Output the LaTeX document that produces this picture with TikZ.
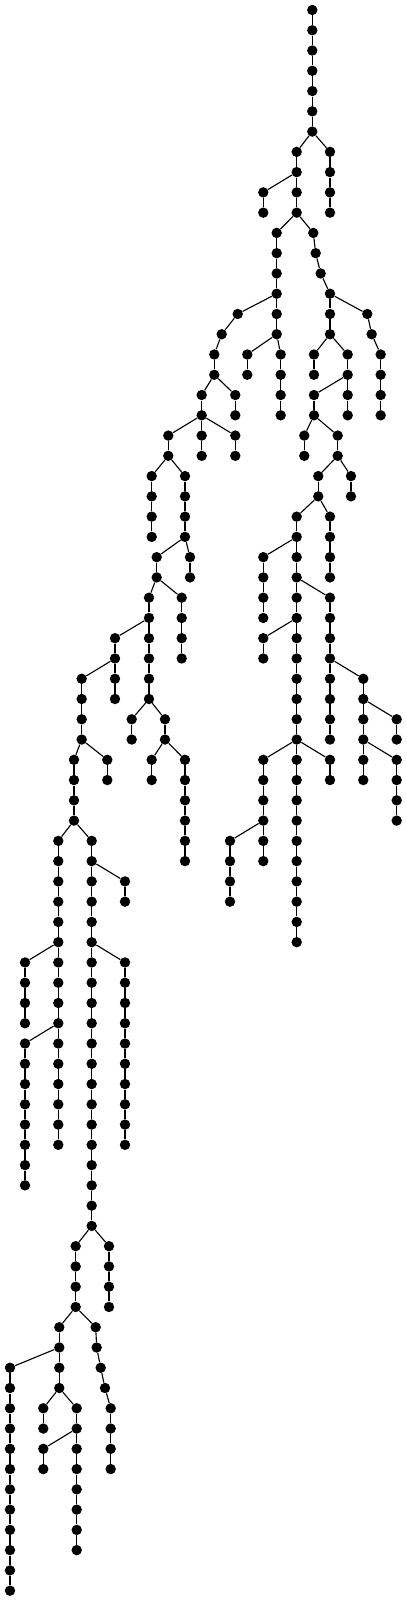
\documentclass[tikz,border=0pt]{standalone}
\usepackage{tikz}
\tikzset{
  dot/.style={circle,fill=black,draw=none,inner sep=0pt,minimum size=2.6mm},
  wire/.style={black,line width=0.8pt},
}
% a vertical run of dots, one per row: prefix, x, first row, last row
\newcommand{\dotchain}[4]{%
  \foreach \r in {#3,...,#4}{%
    \node[dot] (#1\r) at (#2,\r) {};
    \ifnum\r>#3 \pgfmathtruncatemacro{\q}{\r-1}\draw[wire] (#1\q) -- (#1\r);\fi
  }}
% a run whose x drifts: prefix, first row, list of x
\newcommand{\slantchain}[3]{%
  \foreach \x [count=\r from #2] in {#3}{%
    \node[dot] (#1\r) at (\x,\r) {};
    \ifnum\r>#2 \pgfmathtruncatemacro{\q}{\r-1}\draw[wire] (#1\q) -- (#1\r);\fi
  }}

\begin{document}
\begin{tikzpicture}[x=0.25mm,y=-5.06625mm]
  \path[use as bounding box] (0,-0.4935) rectangle (407,78.51);

  % trunk and first split
  \dotchain{t}{312.3}{0}{6}
  \dotchain{ra}{330}{7}{10}
  \dotchain{b}{296.7}{7}{10}
  \dotchain{d}{263.3}{9}{10}

  % left half
  \dotchain{e}{276.7}{11}{16}
  \slantchain{g}{15}{237.7,221.7,214.3,214.3}
  \dotchain{h}{247.3}{17}{18}
  \dotchain{i}{280.7}{17}{20}
  \dotchain{j}{201.7}{19}{20}
  \dotchain{k}{235.3}{19}{20}
  \dotchain{l}{168.3}{21}{22}
  \dotchain{m}{201.7}{21}{22}
  \dotchain{n}{235.3}{21}{22}
  \dotchain{o}{151.7}{23}{26}
  \dotchain{p}{185}{23}{26}
  \dotchain{q}{156.7}{27}{28}
  \dotchain{s}{190}{27}{28}
  \dotchain{u}{149}{29}{34}
  \dotchain{v}{181.7}{29}{32}
  \dotchain{w}{115}{31}{34}
  \dotchain{y}{81.7}{33}{36}
  \dotchain{z}{131.7}{35}{36}
  \dotchain{aa}{165}{35}{36}
  \dotchain{ab}{151.7}{37}{38}
  \dotchain{ac}{185}{37}{42}
  \dotchain{ad}{74}{37}{40}
  \dotchain{ae}{107.3}{37}{38}
  \dotchain{af}{58.3}{41}{56}
  \dotchain{ag}{91.7}{41}{60}
  \dotchain{ah}{125}{43}{44}
  \dotchain{ai}{125}{47}{56}
  \dotchain{aj}{25}{47}{50}
  \dotchain{ak}{25}{51}{58}
  \dotchain{al}{75.7}{61}{64}
  \dotchain{am}{109}{61}{64}
  \dotchain{an}{59.3}{65}{68}
  \slantchain{ao}{65}{95.7,96.7,100.7,105,110.7,110.7,110.7,110.7}
  \dotchain{ap}{10}{67}{78}
  \dotchain{aq}{43.3}{69}{70}
  \dotchain{ar}{76.7}{69}{76}
  \dotchain{as}{43.3}{71}{72}

  % right half
  \slantchain{f}{11}{313.3,315.7,320.7,330,330,330}
  \slantchain{ba}{15}{367.3,371.7,380.7,380.7,380.7,380.7}
  \dotchain{bb}{314}{17}{18}
  \dotchain{bc}{347.7}{17}{20}
  \dotchain{bd}{314}{19}{20}
  \dotchain{be}{304.3}{21}{22}
  \dotchain{bf}{337.7}{21}{22}
  \dotchain{bg}{318.3}{23}{24}
  \dotchain{bh}{351}{23}{24}
  \dotchain{bi}{296.7}{25}{46}
  \dotchain{bj}{330}{25}{28}
  \dotchain{bk}{263.3}{27}{30}
  \dotchain{bl}{330}{29}{36}
  \dotchain{bm}{263.3}{31}{32}
  \dotchain{bn}{263.3}{37}{40}
  \dotchain{bo}{330}{37}{38}
  \dotchain{bp}{230}{41}{44}
  \dotchain{bq}{263.3}{41}{42}
  \dotchain{br}{363.3}{33}{36}
  \dotchain{bs}{396.7}{35}{36}
  \dotchain{bt}{363.3}{37}{38}
  \dotchain{bu}{396.7}{37}{40}

  % branch edges
  \foreach \a/\b in {t6/ra7,t6/b7,b8/d9,b10/e11,b10/f11,
      e14/g15,e16/h17,e16/i17,g18/j19,g18/k19,j20/l21,j20/m21,j20/n21,
      l22/o23,l22/p23,p26/q27,p26/s27,q28/u29,q28/v29,u30/w31,w32/y33,
      u34/z35,u34/aa35,aa36/ab37,aa36/ac37,y36/ad37,y36/ae37,ad40/af41,ad40/ag41,
      ag42/ah43,ag46/ai47,af46/aj47,af50/ak51,ag60/al61,ag60/am61,al64/an65,al64/ao65,
      an66/ap67,an68/aq69,an68/ar69,ar70/as71,
      f14/ba15,f16/bb17,f16/bc17,bc18/bd19,bd20/be21,bd20/bf21,bf22/bg23,bf22/bh23,
      bg24/bi25,bg24/bj25,bi26/bk27,bi28/bl29,bi30/bm31,bi36/bn37,bi36/bo37,
      bn40/bp41,bn40/bq41,bl32/br33,br34/bs35,br36/bt37,br36/bu37}
    \draw[wire] (\a) -- (\b);
\end{tikzpicture}
\end{document}
